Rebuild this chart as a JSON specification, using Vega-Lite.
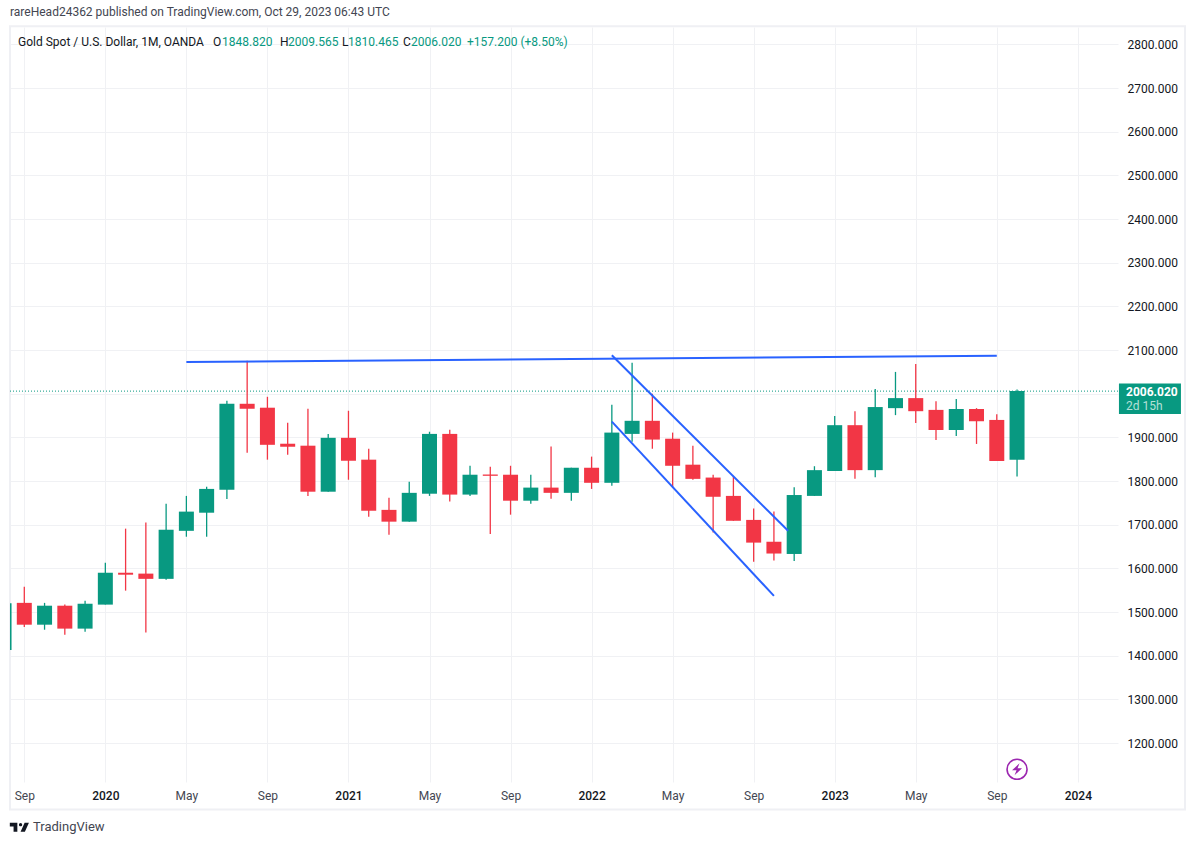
{
"$schema":"https://vega.github.io/schema/vega-lite/v6.json",
"width":1108,"height":755,"autosize":{"type":"none"},
"padding":{"left":10,"top":27,"right":77,"bottom":63},
"background":"#ffffff",
"config":{"view":{"stroke":null},"font":"Roboto"},
"title":{"text":"rareHead24362 published on TradingView.com, Oct 29, 2023 06:43 UTC","anchor":"start","frame":"group","fontSize":12,"fontWeight":"normal","font":"Roboto","color":"#434651","offset":6},
"datasets":{
"candles":[
{"month":"2019-08","t":-1,"open":1413,"high":1555,"low":1400,"close":1520},
{"month":"2019-09","t":0,"open":1521,"high":1558,"low":1466,"close":1471},
{"month":"2019-10","t":1,"open":1471,"high":1521,"low":1459.5,"close":1514.5},
{"month":"2019-11","t":2,"open":1514.5,"high":1517,"low":1448,"close":1462},
{"month":"2019-12","t":3,"open":1462,"high":1526,"low":1455,"close":1519},
{"month":"2020-01","t":4,"open":1517,"high":1613,"low":1517,"close":1590},
{"month":"2020-02","t":5,"open":1590,"high":1691,"low":1549,"close":1585.5},
{"month":"2020-03","t":6,"open":1588,"high":1705,"low":1453,"close":1576},
{"month":"2020-04","t":7,"open":1576,"high":1748,"low":1574,"close":1688.5},
{"month":"2020-05","t":8,"open":1686,"high":1766,"low":1672.5,"close":1730},
{"month":"2020-06","t":9,"open":1727.5,"high":1787,"low":1672.5,"close":1782},
{"month":"2020-07","t":10,"open":1780,"high":1984,"low":1759,"close":1977},
{"month":"2020-08","t":11,"open":1977,"high":2075.6,"low":1865,"close":1965.6},
{"month":"2020-09","t":12,"open":1968,"high":1993,"low":1849,"close":1883},
{"month":"2020-10","t":13,"open":1885.5,"high":1933.6,"low":1860,"close":1878.6},
{"month":"2020-11","t":14,"open":1881,"high":1965.6,"low":1766,"close":1775.6},
{"month":"2020-12","t":15,"open":1775.6,"high":1908,"low":1775.6,"close":1899},
{"month":"2021-01","t":16,"open":1899,"high":1961,"low":1803,"close":1846.5},
{"month":"2021-02","t":17,"open":1849,"high":1874,"low":1718,"close":1732},
{"month":"2021-03","t":18,"open":1734,"high":1762,"low":1677,"close":1707},
{"month":"2021-04","t":19,"open":1707,"high":1798.5,"low":1707,"close":1773},
{"month":"2021-05","t":20,"open":1771,"high":1913,"low":1766,"close":1908},
{"month":"2021-06","t":21,"open":1908,"high":1917.5,"low":1753,"close":1769},
{"month":"2021-07","t":22,"open":1769,"high":1835,"low":1766,"close":1814.5},
{"month":"2021-08","t":23,"open":1815,"high":1833,"low":1679,"close":1812},
{"month":"2021-09","t":24,"open":1814.5,"high":1835,"low":1723,"close":1755},
{"month":"2021-10","t":25,"open":1755,"high":1814.5,"low":1748,"close":1785},
{"month":"2021-11","t":26,"open":1785,"high":1879,"low":1759.5,"close":1773},
{"month":"2021-12","t":27,"open":1773,"high":1830.5,"low":1755,"close":1830.5},
{"month":"2022-01","t":28,"open":1830.5,"high":1856,"low":1782,"close":1796},
{"month":"2022-02","t":29,"open":1796,"high":1975,"low":1789,"close":1911},
{"month":"2022-03","t":30,"open":1908,"high":2071,"low":1890,"close":1938},
{"month":"2022-04","t":31,"open":1938,"high":2000,"low":1874,"close":1895},
{"month":"2022-05","t":32,"open":1897,"high":1911,"low":1785,"close":1835},
{"month":"2022-06","t":33,"open":1837.5,"high":1881,"low":1803,"close":1805},
{"month":"2022-07","t":34,"open":1808,"high":1814.5,"low":1682,"close":1764},
{"month":"2022-08","t":35,"open":1766,"high":1810,"low":1709,"close":1709},
{"month":"2022-09","t":36,"open":1711,"high":1737,"low":1615,"close":1659},
{"month":"2022-10","t":37,"open":1661,"high":1730,"low":1618,"close":1634},
{"month":"2022-11","t":38,"open":1633,"high":1786,"low":1617,"close":1768},
{"month":"2022-12","t":39,"open":1766,"high":1834,"low":1766,"close":1825},
{"month":"2023-01","t":40,"open":1823,"high":1949,"low":1823,"close":1928},
{"month":"2023-02","t":41,"open":1928,"high":1960,"low":1805,"close":1825},
{"month":"2023-03","t":42,"open":1825,"high":2011,"low":1809,"close":1969.5},
{"month":"2023-04","t":43,"open":1967,"high":2050,"low":1951,"close":1990},
{"month":"2023-05","t":44,"open":1990,"high":2068,"low":1933,"close":1960},
{"month":"2023-06","t":45,"open":1963,"high":1983,"low":1894,"close":1917},
{"month":"2023-07","t":46,"open":1917,"high":1988,"low":1903,"close":1965},
{"month":"2023-08","t":47,"open":1965,"high":1967,"low":1885,"close":1937},
{"month":"2023-09","t":48,"open":1940,"high":1953,"low":1846,"close":1846},
{"month":"2023-10","t":49,"open":1848.82,"high":2009.565,"low":1810.465,"close":2006.02}
],
"trend":[
{"line":"resistance","t":8,"p":2072.7},{"line":"resistance","t":48,"p":2087},
{"line":"channel top","t":29,"p":2088},{"line":"channel top","t":37.7,"p":1686},
{"line":"channel bottom","t":29,"p":1936},{"line":"channel bottom","t":37,"p":1537}
],
"legendText":[
{"t":-0.311,"p":2805.6,"label":"Gold Spot / U.S. Dollar, 1M, OANDA","kind":"name"},
{"t":9.31,"p":2805.6,"label":"O","kind":"name"},
{"t":9.76,"p":2805.6,"label":"1848.820","kind":"value"},
{"t":12.62,"p":2805.6,"label":"H","kind":"name"},
{"t":13.02,"p":2805.6,"label":"2009.565","kind":"value"},
{"t":15.68,"p":2805.6,"label":"L","kind":"name"},
{"t":15.98,"p":2805.6,"label":"1810.465","kind":"value"},
{"t":18.69,"p":2805.6,"label":"C","kind":"name"},
{"t":19.09,"p":2805.6,"label":"2006.020","kind":"value"},
{"t":21.85,"p":2805.6,"label":"+157.200 (+8.50%)","kind":"value"}
]
},
"encoding":{
  "x":{"field":"t","type":"quantitative","scale":{"domain":[-0.7058,53.983],"nice":false,"zero":false,"padding":0},
   "axis":{"title":null,"orient":"bottom","values":[0,4,8,12,16,20,24,28,32,36,40,44,48,52],
    "labelExpr":"['Sep','2020','May','Sep','2021','May','Sep','2022','May','Sep','2023','May','Sep','2024'][datum.value/4]",
    "labelFontWeight":{"condition":{"test":"datum.value % 12 == 4","value":500},"value":"normal"},
    "labelColor":{"condition":{"test":"datum.value % 12 == 4","value":"#131722"},"value":"#434651"},
    "labelFontSize":12,"labelFont":"Roboto","labelPadding":8,"labelBaseline":"top","labelFlush":false,"labelOverlap":false,
    "domain":false,"ticks":false,"grid":true,"gridColor":"#f0f1f4","gridWidth":1}},
  "y":{"field":"p","type":"quantitative","scale":{"domain":[1110.7,2840],"nice":false,"zero":false},
   "axis":{"title":null,"orient":"right","values":[1200,1300,1400,1500,1600,1700,1800,1900,2000,2100,2200,2300,2400,2500,2600,2700,2800],
    "labelExpr":"datum.value == 2000 ? '' : format(datum.value, '.3f')",
    "labelColor":"#131722","labelFontSize":12,"labelFont":"Roboto","labelPadding":9,"labelOverlap":false,"labelFlush":false,
    "domain":false,"ticks":false,"grid":true,"gridColor":"#f0f1f4","gridWidth":1}}
},
"layer":[
{"data":{"values":[{"t":-0.706,"t2":57.29,"p":2842,"p2":1047.7}]},
 "mark":{"type":"rect","filled":false,"stroke":"#eff0f4","strokeWidth":2,"clip":false},
 "encoding":{"x2":{"field":"t2"},"y2":{"field":"p2"}}},
{"data":{"values":[{"t":-0.7058,"t2":53.983,"p":2006.02}]},"mark":{"type":"rule","color":"#089981","strokeWidth":1,"strokeDash":[1,2]},
 "encoding":{"x2":{"field":"t2"}}},
{"data":{"name":"candles"},"mark":{"type":"rule","strokeWidth":1.3,"clip":true},
 "encoding":{
  "y":{"field":"low","type":"quantitative","title":null,"scale":{"domain":[1110.7,2840],"nice":false,"zero":false}},
  "y2":{"field":"high"},
  "color":{"condition":{"test":"datum.close >= datum.open","value":"#089981"},"value":"#f23645"}}},
{"data":{"name":"candles"},"mark":{"type":"bar","size":15,"clip":true},
 "encoding":{
  "y":{"field":"open","type":"quantitative","title":null,"scale":{"domain":[1110.7,2840],"nice":false,"zero":false}},
  "y2":{"field":"close"},
  "color":{"condition":{"test":"datum.close >= datum.open","value":"#089981"},"value":"#f23645"}}},
{"data":{"name":"trend"},"mark":{"type":"line","color":"#2962ff","strokeWidth":2,"clip":false},
 "encoding":{"detail":{"field":"line"}}},
{"data":{"values":[{"t":54.03,"t2":57.09,"p":2023.4,"p2":1953.5}]},"mark":{"type":"rect","color":"#089981","clip":false},
 "encoding":{"x2":{"field":"t2"},"y2":{"field":"p2"}}},
{"data":{"values":[{"t":54.38,"p":2005,"label":"2006.020"}]},"mark":{"type":"text","align":"left","baseline":"middle","fontSize":12,"fontWeight":"bold","color":"#ffffff","font":"Roboto"},
 "encoding":{"text":{"field":"label"}}},
{"data":{"values":[{"t":54.38,"p":1972,"label":"2d 15h"}]},"mark":{"type":"text","align":"left","baseline":"middle","fontSize":12,"color":"#b5e0d8","font":"Roboto"},
 "encoding":{"text":{"field":"label"}}},
{"data":{"name":"legendText"},"mark":{"type":"text","align":"left","baseline":"middle","fontSize":12,"font":"Roboto"},
 "encoding":{"text":{"field":"label"},
  "color":{"condition":{"test":"datum.kind == 'value'","value":"#089981"},"value":"#131722"}}},
{"data":{"values":[{"t":0.43,"p":1007.6,"label":"TradingView"}]},"mark":{"type":"text","align":"left","baseline":"middle","fontSize":13,"color":"#434651","font":"Roboto"},
 "encoding":{"text":{"field":"label"}}},
{"data":{"values":[{"t":-0.237,"p":1007}]},"mark":{"type":"point","filled":true,"size":376,"opacity":1,"strokeWidth":0,"color":"#131722","clip":false,"shape":"M-0.222 -0.47H-1V-0.07H-0.611V0.47H-0.222ZM0.556 0.47H0.111L0.528 -0.47H0.972ZM-0.056 -0.27a0.167 0.167 0 1 0 0.334 0a0.167 0.167 0 1 0 -0.334 0Z"}},
{"data":{"values":[{"t":49,"p":1139.8}]},"mark":{"type":"point","filled":false,"size":400,"opacity":1,"strokeWidth":1.6,"color":"#9c27b0","shape":"circle"}},
{"data":{"values":[{"t":49,"p":1139.8}]},"mark":{"type":"point","filled":true,"size":400,"opacity":1,"strokeWidth":0,"color":"#9c27b0","shape":"M0.25 -0.6L-0.5 0.1H-0.05L-0.25 0.6L0.5 -0.1H0.05Z"}}
]
}
